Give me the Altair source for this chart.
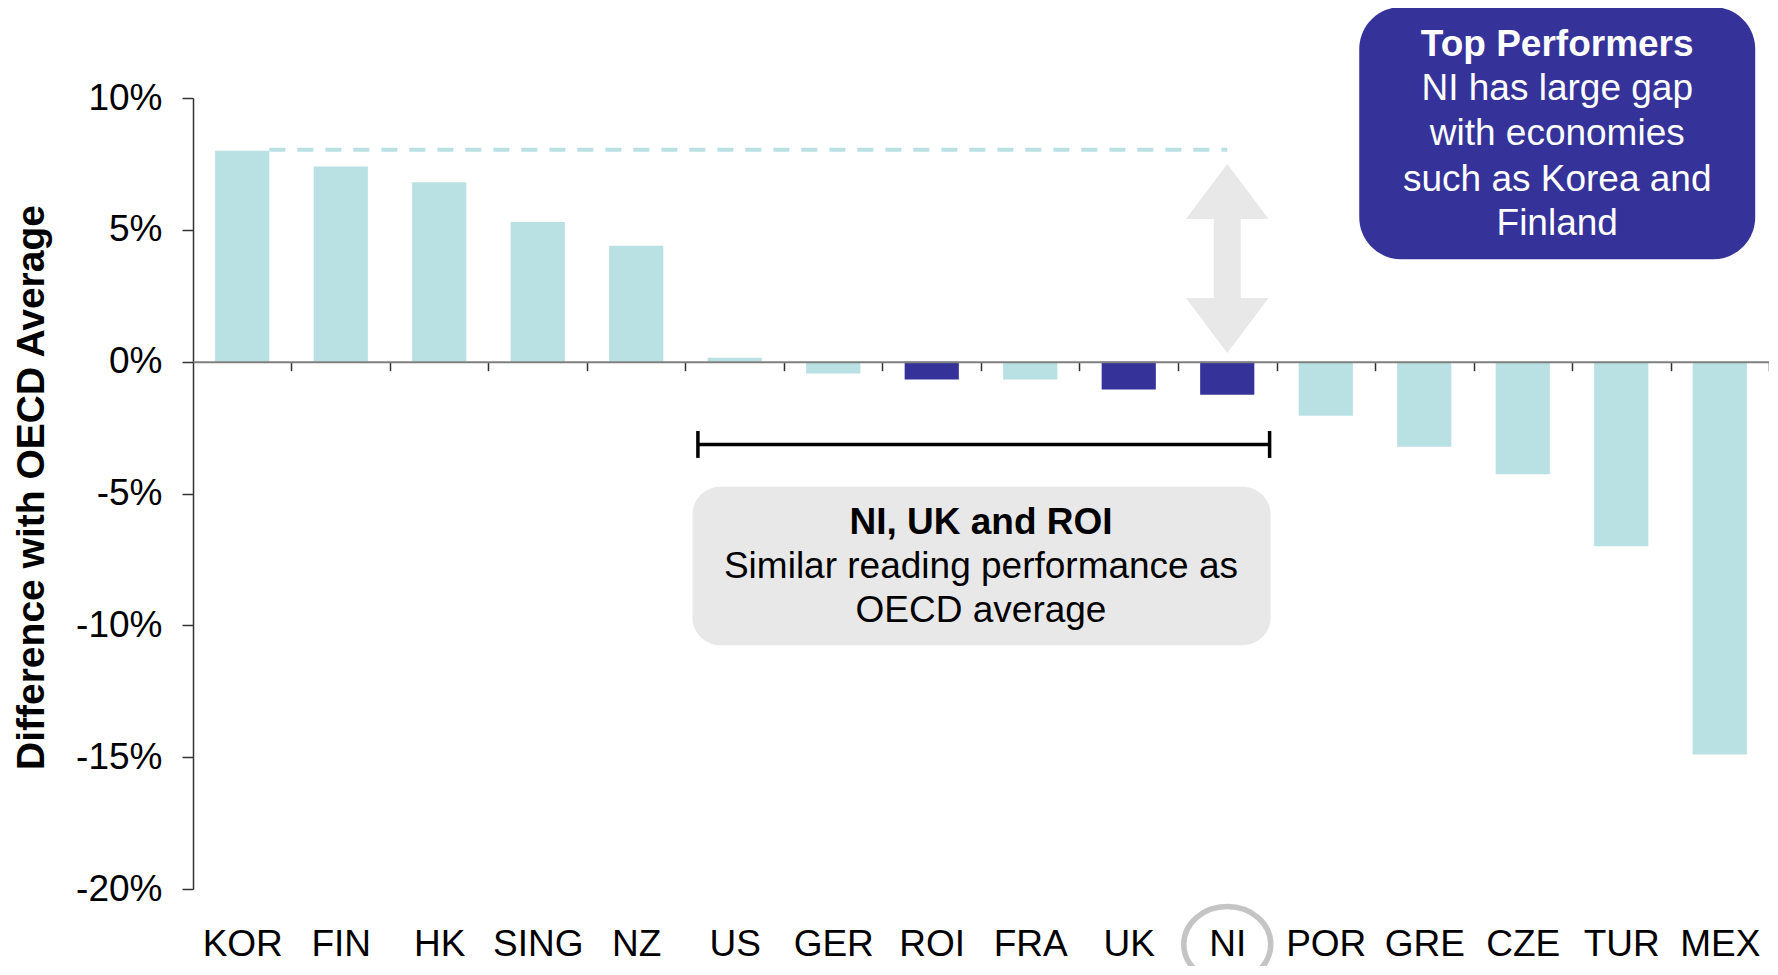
import altair as alt
import pandas as pd

# ---------------- data ----------------
countries = ["KOR", "FIN", "HK", "SING", "NZ", "US", "GER", "ROI", "FRA", "UK",
             "NI", "POR", "GRE", "CZE", "TUR", "MEX"]
diff_pct = [8.0, 7.4, 6.8, 5.3, 4.4, 0.15, -0.45, -0.68, -0.68, -1.06,
            -1.25, -2.05, -3.23, -4.27, -7.0, -14.9]
highlighted = ["ROI", "UK", "NI"]
y_ticks = [-20, -15, -10, -5, 0, 5, 10]
y_domain = [-20, 10]

# annotation anchors: x in category-index units (0..16), y in %
gap_line_x, gap_line_x2, gap_line_y = [0.775], [10.5], [8.04]
arrow_x, arrow_y = [10.5], [3.91]
bracket_x, bracket_x2, bracket_y = [5.126], [10.93], [-3.14]
bracket_cap_x = [5.126, 10.93]
bracket_cap_top, bracket_cap_bot = [-2.63, -2.63], [-3.65, -3.65]
mid_box_x, mid_box_x2, mid_box_y, mid_box_y2 = [5.07], [10.94], [-4.74], [-10.76]
mid_title, mid_title_x, mid_title_y = ["NI, UK and ROI"], [8.0], [-6.12]
mid_lines = ["Similar reading performance as", "OECD average"]
mid_lines_x, mid_lines_y = [8.0, 8.0], [-7.78, -9.44]
top_box_x, top_box_x2, top_box_y, top_box_y2 = [11.84], [15.86], [3.88], [13.45]
top_title, top_title_x, top_title_y = ["Top Performers"], [13.85], [12.0]
top_lines = ["NI has large gap", "with economies", "such as Korea and", "Finland"]
top_lines_x, top_lines_y = [13.85] * 4, [10.34, 8.62, 6.88, 5.23]
ring_x, ring_y = [10.5], [-22.1]

LIGHT = "#B9E0E3"
DARK = "#353399"
GREY = "#E8E8E8"
FONT = "Liberation Sans"
FS = 37

W, H = 1576, 791
STEP = W / len(countries)
zero_from_bottom = H * (0 - y_domain[0]) / (y_domain[1] - y_domain[0])

ys = alt.Scale(domain=y_domain, nice=False, zero=False)
xi = alt.Scale(domain=[0, len(countries)], nice=False, zero=False)

Y_AXIS = alt.Axis(values=y_ticks, grid=False,
                  labelExpr="(datum.value < 0 ? '-' : '') + abs(datum.value) + '%'",
                  labelFontSize=FS, labelFont=FONT, labelColor="black",
                  labelPadding=20, tickSize=11, tickColor="#333333", tickWidth=1.5,
                  domainColor="#333333", domainWidth=1.5,
                  title="Difference with OECD Average", titleFont=FONT,
                  titleFontSize=39, titleFontWeight="bold", titleColor="black",
                  titleAngle=270, titleAlign="center", titleBaseline="middle",
                  titleX=-162, titleY=389)

df = pd.DataFrame({"country": countries, "diff": diff_pct})
df["group"] = ["highlight" if c in highlighted else "other" for c in countries]

bars = alt.Chart(df).mark_bar().encode(
    x=alt.X("country:N", sort=countries,
            scale=alt.Scale(paddingInner=0.45, paddingOuter=0.225),
            axis=alt.Axis(title=None, orient="bottom", offset=-zero_from_bottom,
                          tickOffset=STEP / 2, labelOffset=-STEP / 2,
                          tickSize=9, tickColor="#333333",
                          tickWidth=1.5, domainColor="#7F7F7F", domainWidth=2,
                          labelFontSize=FS, labelFont=FONT, labelColor="black",
                          labelAngle=0, labelBaseline="middle", labelPadding=574,
                          labelOverlap=False, zindex=1)),
    y=alt.Y("diff:Q", scale=ys, axis=Y_AXIS),
    color=alt.Color("group:N", scale=alt.Scale(domain=["other", "highlight"],
                                               range=[LIGHT, DARK]), legend=None),
)


def X(f="x"):
    return alt.X(f"{f}:Q", scale=xi, axis=None)


def Y(f="y"):
    return alt.Y(f"{f}:Q", scale=ys, axis=Y_AXIS)


def text_layer(lines, xs, yv, color, weight):
    d = pd.DataFrame({"x": xs, "y": yv, "t": lines})
    return alt.Chart(d).mark_text(
        font=FONT, fontSize=FS, color=color, fontWeight=weight,
        align="center", baseline="middle").encode(x=X(), y=Y(), text="t:N")


gap_line = alt.Chart(pd.DataFrame({"x": gap_line_x, "x2": gap_line_x2, "y": gap_line_y})).mark_rule(
    color=LIGHT, strokeWidth=4, strokeDash=[16, 12]).encode(x=X(), x2="x2:Q", y=Y())

arrow_path = ("M0,-1L0.437,-0.418L0.142,-0.418L0.142,0.418L0.437,0.418L0,1"
              "L-0.437,0.418L-0.142,0.418L-0.142,-0.418L-0.437,-0.418Z")
arrow = alt.Chart(pd.DataFrame({"x": arrow_x, "y": arrow_y})).mark_point(
    shape=arrow_path, size=189 * 189, filled=True, fill=GREY, opacity=1,
    strokeWidth=0).encode(x=X(), y=Y())

bracket = alt.Chart(pd.DataFrame({"x": bracket_x, "x2": bracket_x2, "y": bracket_y})).mark_rule(
    color="black", strokeWidth=3.5).encode(x=X(), x2="x2:Q", y=Y())
caps = alt.Chart(pd.DataFrame({"x": bracket_cap_x, "y": bracket_cap_top, "y2": bracket_cap_bot})).mark_rule(
    color="black", strokeWidth=3.5).encode(x=X(), y=Y(), y2="y2:Q")

mid_box = alt.Chart(pd.DataFrame({"x": mid_box_x, "x2": mid_box_x2, "y": mid_box_y, "y2": mid_box_y2})).mark_rect(
    color=GREY, cornerRadius=28).encode(x=X(), x2="x2:Q", y=Y(), y2="y2:Q")
top_box = alt.Chart(pd.DataFrame({"x": top_box_x, "x2": top_box_x2, "y": top_box_y, "y2": top_box_y2})).mark_rect(
    color=DARK, cornerRadius=42).encode(x=X(), x2="x2:Q", y=Y(), y2="y2:Q")

mid_t1 = text_layer(mid_title, mid_title_x, mid_title_y, "black", "bold")
mid_t2 = text_layer(mid_lines, mid_lines_x, mid_lines_y, "black", "normal")
top_t1 = text_layer(top_title, top_title_x, top_title_y, "white", "bold")
top_t2 = text_layer(top_lines, top_lines_x, top_lines_y, "white", "normal")

ring = alt.Chart(pd.DataFrame({"x": ring_x, "y": ring_y})).mark_point(
    shape="M-1,0A1,0.87,0,1,1,1,0A1,0.87,0,1,1,-1,0Z", size=87 * 87, filled=False,
    stroke="#C4C4C4", strokeWidth=5.5, opacity=1).encode(x=X(), y=Y())

chart = alt.layer(
    mid_box, top_box, bars, gap_line, arrow, bracket, caps,
    mid_t1, mid_t2, top_t1, top_t2, ring
).resolve_scale(x="independent").properties(
    width=W, height=H,
    autosize=alt.AutoSizeParams(type="none"),
    padding={"left": 185, "top": 90, "right": 0, "bottom": 77},
).configure(font=FONT).configure_view(stroke=None, strokeWidth=0)

chart.save("out.html", embed_options={"renderer": "svg", "actions": False})
